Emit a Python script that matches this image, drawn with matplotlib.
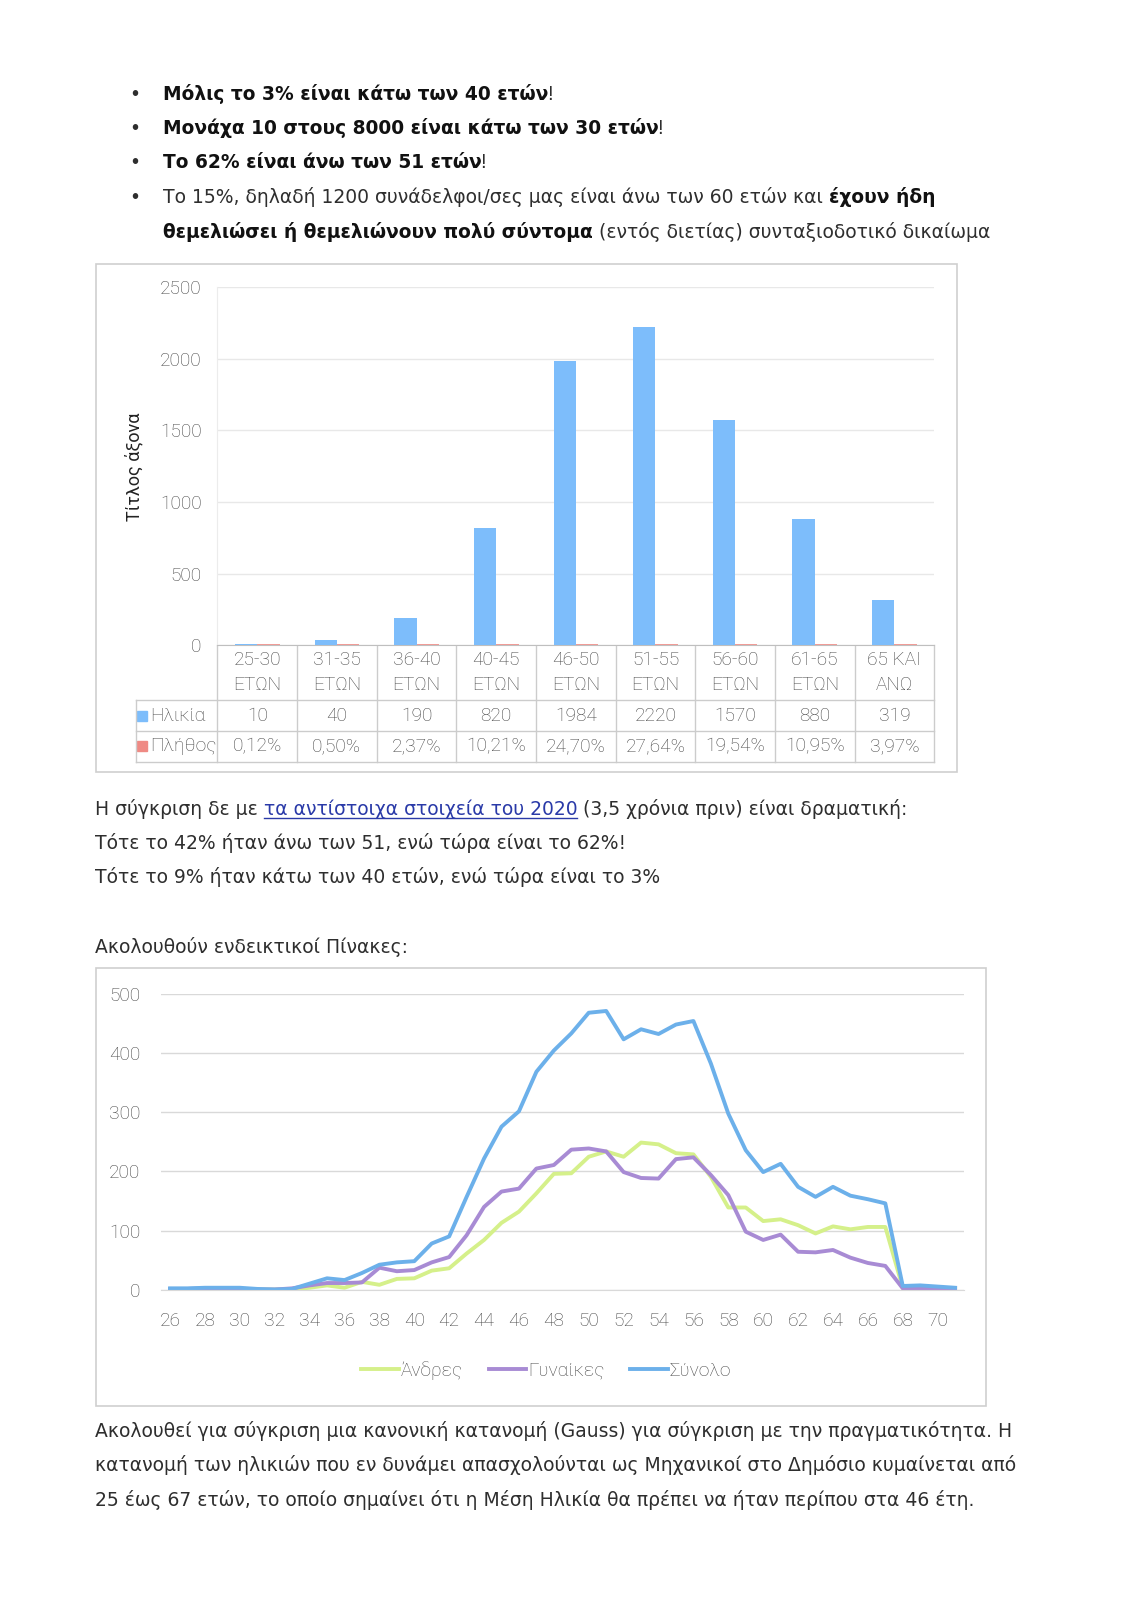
import matplotlib
matplotlib.use("Agg")
import matplotlib.pyplot as plt
from matplotlib import transforms
from matplotlib.patches import Rectangle

# ---- data ----
age_groups = ["25-30\nΕΤΩΝ", "31-35\nΕΤΩΝ", "36-40\nΕΤΩΝ", "40-45\nΕΤΩΝ", "46-50\nΕΤΩΝ",
              "51-55\nΕΤΩΝ", "56-60\nΕΤΩΝ", "61-65\nΕΤΩΝ", "65 ΚΑΙ\nΑΝΩ"]
counts = [10, 40, 190, 820, 1984, 2220, 1570, 880, 319]
share_labels = ["0,12%", "0,50%", "2,37%", "10,21%", "24,70%", "27,64%", "19,54%", "10,95%", "3,97%"]
shares = [0.0012, 0.0050, 0.0237, 0.1021, 0.2470, 0.2764, 0.1954, 0.1095, 0.0397]

ages = list(range(26, 72))
men = [0, 0, 0, 0, 0, 0, 0, 0,
       3, 7, 3, 13, 8, 18, 19, 32, 36, 61,
       84, 113, 132, 163, 196, 197, 225, 234, 225, 249,
       246, 231, 229, 191, 139, 139, 116, 119, 109, 95,
       107, 102, 106, 106, 3, 2, 1, 1]
women = [1, 1, 2, 2, 1, 0, 0, 2,
         7, 11, 11, 12, 37, 31, 33, 46, 55, 92,
         140, 166, 171, 205, 211, 237, 239, 234, 199, 189,
         188, 221, 224, 194, 160, 98, 84, 93, 64, 63,
         67, 54, 45, 40, 2, 1, 1, 0]
total = [2, 2, 3, 3, 3, 1, 0, 1,
         10, 19, 16, 28, 42, 46, 48, 78, 90, 157,
         222, 276, 302, 369, 405, 434, 469, 472, 424, 441,
         433, 449, 455, 383, 298, 236, 199, 213, 174, 157,
         174, 159, 153, 146, 6, 7, 5, 3]

bullets = [
    [("Μόλις το 3% είναι κάτω των 40 ετών", "b"), ("!", "r")],
    [("Μονάχα 10 στους 8000 είναι κάτω των 30 ετών", "b"), ("!", "r")],
    [("Το 62% είναι άνω των 51 ετών", "b"), ("!", "r")],
    [("Το 15%, δηλαδή 1200 συνάδελφοι/σες μας είναι άνω των 60 ετών και ", "r"), ("έχουν ήδη", "b")],
]
bullet_cont = [("θεμελιώσει ή θεμελιώνουν πολύ σύντομα", "b"), (" (εντός διετίας) συνταξιοδοτικό δικαίωμα", "r")]
middle_lines = [
    [("Η σύγκριση δε με ", "r"), ("τα αντίστοιχα στοιχεία του 2020", "link"),
     (" (3,5 χρόνια πριν) είναι δραματική:", "r")],
    [("Τότε το 42% ήταν άνω των 51, ενώ τώρα είναι το 62%!", "r")],
    [("Τότε το 9% ήταν κάτω των 40 ετών, ενώ τώρα είναι το 3%", "r")],
]
intro_line = [("Ακολουθούν ενδεικτικοί Πίνακες:", "r")]
bottom_lines = [
    [("Ακολουθεί για σύγκριση μια κανονική κατανομή (Gauss) για σύγκριση με την πραγματικότητα. Η", "r")],
    [("κατανομή των ηλικιών που εν δυνάμει απασχολούνται ως Μηχανικοί στο Δημόσιο κυμαίνεται από", "r")],
    [("25 έως 67 ετών, το οποίο σημαίνει ότι η Μέση Ηλικία θα πρέπει να ήταν περίπου στα 46 έτη.", "r")],
]

# ---- page ----
W, H = 1132, 1600
K = 1.021  # layout units -> pixels
fig = plt.figure(figsize=(W / 100, H / 100), dpi=100)
renderer = fig.canvas.get_renderer()

TEXT = "#2e2e2e"
LINK = "#2a3aa8"
AXTXT = "#454545"
GRID = "#d9d9d9"
CHART_FONT = ["Roboto", "DejaVu Sans"]
CF = 13.8
BODY = 13.5
BOLD = 13.45


def axes_px(x0, y0, x1, y1, **kw):
    x0, y0, x1, y1 = x0 * K, y0 * K, x1 * K, y1 * K
    return fig.add_axes([x0 / W, 1 - y1 / H, (x1 - x0) / W, (y1 - y0) / H], **kw)


page = fig.add_axes([0, 0, 1, 1], zorder=0)
page.set_xlim(0, W / K)
page.set_ylim(H / K, 0)
page.axis("off")


def text_width(s, **kw):
    t = page.text(0, 0, s, **kw)
    w = t.get_window_extent(renderer).width / K
    t.remove()
    return w


def rich(x, y, parts):
    for n, (s, style) in enumerate(parts):
        kw = dict(fontsize=BODY, color=TEXT, family="DejaVu Sans", va="baseline", ha="left")
        if style == "b":
            kw["fontweight"] = "bold"
            kw["fontsize"] = BOLD
            kw["color"] = "#111111"
        if style == "link":
            kw["color"] = LINK
        sp = text_width("a a", **kw) - text_width("aa", **kw)
        core = s.strip(" ")
        lead = len(s) - len(s.lstrip(" "))
        trail = len(s) - len(s.rstrip(" "))
        x += lead * sp
        page.text(x, y, core, **kw)
        w = text_width(core, **kw)
        if style == "link":
            page.plot([x, x + w], [y + 3, y + 3], color=LINK, lw=1)
        nxt = parts[n + 1][0] if n + 1 < len(parts) else " "
        if style == "b" and trail == 0 and not nxt.startswith(" "):
            w -= 2.5  # tighten the join with a following "!"
        x += w + trail * sp


for i, parts in enumerate(bullets):
    yb = 98 + i * 33.5
    page.text(127, yb, "•", fontsize=BODY, color=TEXT, va="baseline", family="DejaVu Sans")
    rich(160, yb, parts)
rich(160, 233, bullet_cont)

for i, parts in enumerate(middle_lines):
    rich(93, 798 + i * 33.5, parts)
rich(93, 933, intro_line)
for i, parts in enumerate(bottom_lines):
    rich(93, 1407 + i * 34, parts)

# frames around the two charts
page.add_patch(Rectangle((94, 259), 843, 497, fill=False, ec="#cfcfcf", lw=1.2))
page.add_patch(Rectangle((94, 948), 872, 429, fill=False, ec="#cfcfcf", lw=1.2))

# ---- bar chart ----
ax = axes_px(213, 281, 915, 632, zorder=2)
x = list(range(len(counts)))
bw = 0.28
ax.bar([i - bw / 2 for i in x], counts, width=bw, color="#7dbdfb", zorder=3)
ax.bar([i + bw / 2 for i in x], shares, width=bw, color="#ef8a84", ec="#ef8a84", lw=1.2, zorder=3)
ax.set_xlim(-0.5, len(counts) - 0.5)
ax.set_ylim(0, 2500)
ax.set_yticks(range(0, 2501, 500))
ax.set_xticks([])
ax.grid(axis="y", color="#e8e8e8", lw=1)
ax.set_axisbelow(True)
for side in ["top", "right"]:
    ax.spines[side].set_visible(False)
ax.spines["left"].set_color("#ececec")
ax.spines["bottom"].set_color("#bfbfbf")
ax.tick_params(axis="y", length=0, pad=11.5, labelsize=CF, labelcolor=AXTXT)
for lab in ax.get_yticklabels():
    lab.set_family(CHART_FONT)
    lab.set_fontweight("light")
page.text(131, 457, "Τίτλος άξονα", rotation=90, ha="center", va="center",
          fontsize=13, color="#222222", family=CHART_FONT)

# data table under the bars
tr = transforms.blended_transform_factory(ax.transData, page.transData)
edges = [i - 0.5 for i in range(len(counts) + 1)]
for e in edges:
    page.plot([e, e], [632, 746], color="#cccccc", lw=1, transform=tr, clip_on=False)
for yl in [686, 716, 746]:
    page.plot([133, 915], [yl, yl], color="#cccccc", lw=1, clip_on=False)
page.plot([133, 133], [686, 746], color="#cccccc", lw=1, clip_on=False)
cell = dict(transform=tr, ha="center", va="center", fontsize=CF, color=AXTXT,
            family=CHART_FONT, fontweight="light")
for i in x:
    page.text(i, 659, age_groups[i], linespacing=1.5, **cell)
    page.text(i, 701, str(counts[i]), **cell)
    page.text(i, 731, share_labels[i], **cell)
page.add_patch(Rectangle((134, 696), 10, 10, color="#7dbdfb"))
page.text(147, 701, "Ηλικία", ha="left", va="center", fontsize=CF, color=AXTXT,
          family=CHART_FONT, fontweight="light")
page.add_patch(Rectangle((134, 726), 10, 10, color="#ef8a84"))
page.text(147, 731, "Πλήθος", ha="left", va="center", fontsize=CF, color=AXTXT,
          family=CHART_FONT, fontweight="light")

# ---- line chart ----
lx = axes_px(158, 974, 944, 1263, zorder=2)
lx.plot(ages, men, color="#d5f08a", lw=2.8, label="Άνδρες")
lx.plot(ages, women, color="#a88bd4", lw=2.8, label="Γυναίκες")
lx.plot(ages, total, color="#6cb0ea", lw=2.8, label="Σύνολο")
lx.set_xlim(25.5, 71.5)
lx.set_ylim(0, 500)
lx.set_yticks(range(0, 501, 100))
lx.set_xticks(range(26, 71, 2))
lx.grid(axis="y", color=GRID, lw=1)
lx.set_axisbelow(True)
for side in ["top", "right", "left"]:
    lx.spines[side].set_visible(False)
lx.spines["bottom"].set_color(GRID)
lx.tick_params(length=0, labelsize=CF, labelcolor=AXTXT)
lx.tick_params(axis="y", pad=15)
lx.tick_params(axis="x", pad=16)
for lab in lx.get_yticklabels() + lx.get_xticklabels():
    lab.set_family(CHART_FONT)
    lab.set_fontweight("light")
leg = fig.legend(*lx.get_legend_handles_labels(), loc="center", ncol=3, frameon=False,
                 bbox_to_anchor=(535 * K / W, 1 - 1342 * K / H), handlelength=1.95,
                 handletextpad=0.1, columnspacing=1.35,
                 prop={"family": CHART_FONT, "size": CF, "weight": "light"})
for t in leg.get_texts():
    t.set_color(AXTXT)

fig.savefig("out.png", dpi=100, facecolor="white")
